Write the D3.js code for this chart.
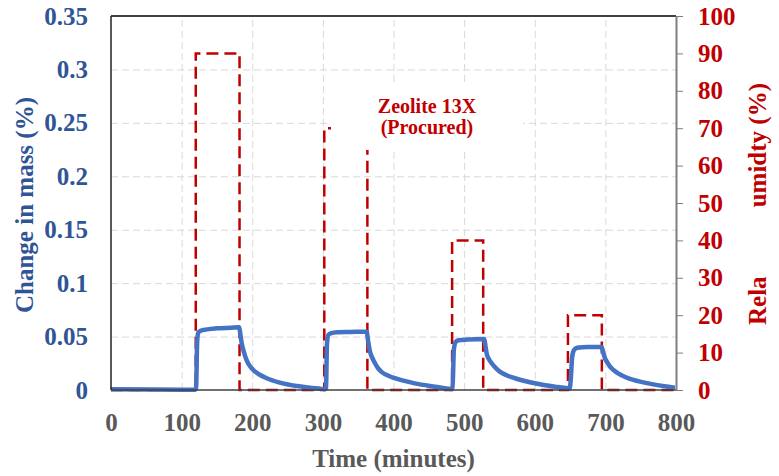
<!DOCTYPE html>
<html>
<head>
<meta charset="utf-8">
<script src="https://cdn.jsdelivr.net/npm/d3@7"></script>
<style>
  html, body { margin: 0; padding: 0; background: #fff; }
  svg { display: block; }
  text { font-family: "Liberation Serif", "Times New Roman", serif; font-weight: bold; }
</style>
</head>
<body>
<svg id="chart" width="779" height="476"></svg>
<script>
// ---- data ----
const xTicks = [0, 100, 200, 300, 400, 500, 600, 700, 800];
const leftTicks = [0, 0.05, 0.1, 0.15, 0.2, 0.25, 0.3, 0.35];
const leftTickLabels = ["0", "0.05", "0.1", "0.15", "0.2", "0.25", "0.3", "0.35"];
const rightTicks = [0, 10, 20, 30, 40, 50, 60, 70, 80, 90, 100];

// Relative humidity (%) step profile
const rhTime  = [0, 120, 120, 182, 182, 302, 302, 363, 363, 483, 483, 527, 527, 647, 647, 695, 695, 800];
const rhValue = [0,   0,  90,  90,   0,   0,  70,  70,   0,   0,  40,  40,   0,   0,  20,  20,   0,   0];

// Change in mass (%)
const massTime = [
  0, 60, 119,
  120.5, 122, 123.6, 127, 132, 150, 170, 181.5,
  183, 185, 188, 192, 196, 201.5, 210, 220.5, 239, 263, 296, 303,
  304.5, 305.8, 307.7, 311, 320, 340, 362,
  364, 366.7, 370, 373.8, 378, 383, 392, 402, 430, 459, 481,
  483.6, 485.5, 488, 492, 505, 528.6,
  530, 532, 535, 539, 545, 551, 560, 572, 600, 629, 647,
  649.5, 651, 653, 655.6, 660, 675, 694.8,
  697, 699.5, 703, 706.5, 712, 718, 728, 739.6, 768, 798.6
];
const massValue = [
  0.0008, 0.0005, 0.0003,
  0.002, 0.045, 0.0536, 0.0555, 0.0563, 0.0577, 0.0583, 0.0587,
  0.053, 0.044, 0.036, 0.028, 0.023, 0.0187, 0.0145, 0.011, 0.0069, 0.0037, 0.0012, 0.0008,
  0.002, 0.043, 0.0515, 0.053, 0.054, 0.0543, 0.0546,
  0.046, 0.036, 0.030, 0.025, 0.0205, 0.017, 0.0135, 0.011, 0.0062, 0.0031, 0.001,
  0.002, 0.038, 0.045, 0.0465, 0.0472, 0.0477,
  0.042, 0.034, 0.029, 0.025, 0.0205, 0.017, 0.0138, 0.011, 0.0063, 0.0031, 0.0016,
  0.0015, 0.01, 0.031, 0.0374, 0.0395, 0.0403, 0.0403,
  0.035, 0.0296, 0.0255, 0.0218, 0.0185, 0.0156, 0.0122, 0.0094, 0.0053, 0.0022
];

const chartLabel = ["Zeolite 13X", "(Procured)"];

// ---- layout ----
const svg = d3.select("#chart");
const L = 111, R = 676, T = 16, B = 390;
const blueDark = "#2F5597", blueLine = "#4472C4", red = "#C00000", gray = "#595959";

const x = d3.scaleLinear().domain([0, 800]).range([L, R]);
const yL = d3.scaleLinear().domain([0, 0.35]).range([B, T]);
const yR = d3.scaleLinear().domain([0, 100]).range([B, T]);

// gridlines
svg.append("g").attr("transform", `translate(${L},0)`)
  .call(d3.axisLeft(yL).tickValues(leftTicks.slice(1, -1)).tickSize(-(R - L)).tickFormat(""))
  .call(g => g.select(".domain").remove())
  .call(g => g.selectAll("line").attr("stroke", "#d9d9d9").attr("stroke-width", 1).attr("stroke-dasharray", "7,4"));
svg.append("g").attr("transform", `translate(0,${B})`)
  .call(d3.axisBottom(x).tickValues(xTicks.slice(1, -1)).tickSize(-(B - T)).tickFormat(""))
  .call(g => g.select(".domain").remove())
  .call(g => g.selectAll("line").attr("stroke", "#d9d9d9").attr("stroke-width", 1).attr("stroke-dasharray", "7,4"));

// RH dashed line
const rhData = rhTime.map((t, i) => [t, rhValue[i]]);
svg.append("path")
  .datum(rhData)
  .attr("fill", "none")
  .attr("stroke", red)
  .attr("stroke-width", 2.5)
  .attr("stroke-dasharray", "12,6")
  .attr("d", d3.line().x(d => x(d[0])).y(d => yR(d[1])));

// label box (white) covering part of the chart
svg.append("rect").attr("x", 331).attr("y", 85).attr("width", 192).attr("height", 65).attr("fill", "#fff");
svg.append("g").selectAll("text").data(chartLabel).join("text")
  .attr("x", 427).attr("y", (d, i) => 113 + i * 21)
  .attr("text-anchor", "middle").attr("fill", red).attr("font-size", 20)
  .text(d => d);

// mass line
const massData = massTime.map((t, i) => [t, massValue[i]]);
svg.append("path")
  .datum(massData)
  .attr("fill", "none")
  .attr("stroke", blueLine)
  .attr("stroke-width", 4.5)
  .attr("stroke-linejoin", "round")
  .attr("d", d3.line().curve(d3.curveMonotoneX).x(d => x(d[0])).y(d => yL(d[1])));

// frame
svg.append("line").attr("x1", L).attr("x2", R).attr("y1", T).attr("y2", T).attr("stroke", "#000").attr("stroke-width", 1.5);
svg.append("line").attr("x1", L).attr("x2", L).attr("y1", T).attr("y2", B).attr("stroke", "#222").attr("stroke-width", 1.5);
svg.append("line").attr("x1", L).attr("x2", R).attr("y1", B).attr("y2", B).attr("stroke", "#404040").attr("stroke-width", 1.5);

// left axis labels
svg.append("g").attr("transform", `translate(${L},0)`)
  .call(d3.axisLeft(yL).tickValues(leftTicks).tickSize(0).tickPadding(23)
        .tickFormat((d, i) => leftTickLabels[i]))
  .call(g => g.select(".domain").remove())
  .call(g => g.selectAll("text").attr("fill", blueDark).attr("font-size", 25)
        .attr("font-family", "Liberation Serif").attr("font-weight", "bold"));

// right axis
svg.append("g").attr("transform", `translate(${R},0)`)
  .call(d3.axisRight(yR).tickValues(rightTicks).tickSize(7).tickPadding(15).tickSizeOuter(0))
  .call(g => g.select(".domain").attr("stroke", "#7f7f7f").attr("stroke-width", 2))
  .call(g => g.selectAll("line").attr("stroke", "#7f7f7f").attr("stroke-width", 1))
  .call(g => g.selectAll("text").attr("fill", red).attr("font-size", 25)
        .attr("font-family", "Liberation Serif").attr("font-weight", "bold"));

// bottom axis labels
svg.append("g").attr("transform", `translate(0,${B})`)
  .call(d3.axisBottom(x).tickValues(xTicks).tickSize(0).tickPadding(23))
  .call(g => g.select(".domain").remove())
  .call(g => g.selectAll("text").attr("fill", gray).attr("font-size", 25)
        .attr("font-family", "Liberation Serif").attr("font-weight", "bold"));

// axis titles
svg.append("text").attr("x", (L + R) / 2).attr("y", 467).attr("text-anchor", "middle")
  .attr("fill", gray).attr("font-size", 25).text("Time (minutes)");
svg.append("text").attr("transform", `translate(33,${(T + B) / 2 + 2}) rotate(-90)`)
  .attr("text-anchor", "middle").attr("fill", blueDark).attr("font-size", 25).text("Change in mass (%)");
svg.append("text").attr("transform", `translate(766,325) rotate(-90)`)
  .attr("text-anchor", "start").attr("fill", red).attr("font-size", 25).text("Rela");
svg.append("text").attr("transform", `translate(766,83) rotate(-90)`)
  .attr("text-anchor", "end").attr("fill", red).attr("font-size", 25).text("umidty (%)");
</script>
</body>
</html>
